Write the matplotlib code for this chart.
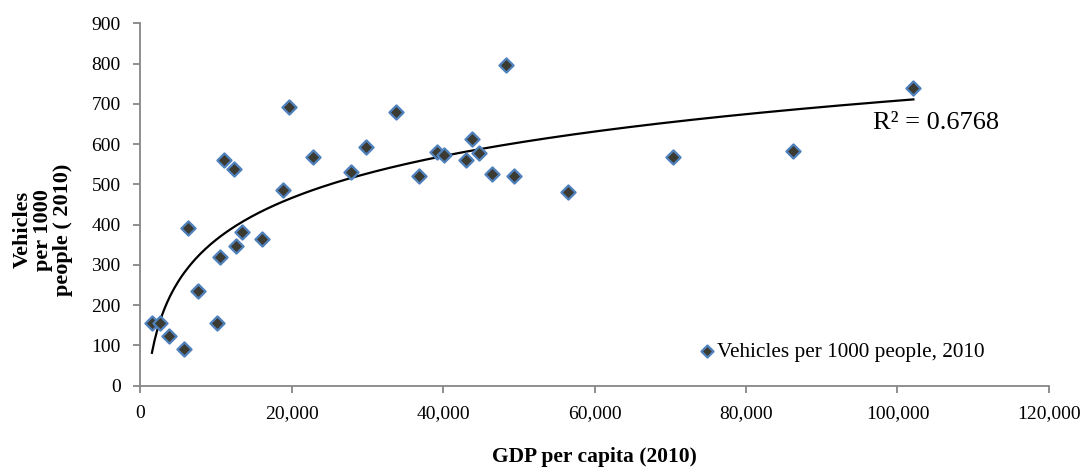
import numpy as np
import matplotlib.pyplot as plt
from matplotlib.ticker import FuncFormatter

plt.rcParams['font.family'] = ['Liberation Serif', 'DejaVu Serif']

# GDP per capita (2010) and vehicles per 1000 people (2010)
gdp = [1545, 2600, 3750, 5810, 6300, 7660, 10080, 10600, 11050, 12330,
       12670, 13380, 16060, 18840, 19630, 22840, 27860, 29840, 33750, 36750,
       39200, 40180, 42990, 43820, 44750, 46450, 48350, 49350, 56450, 70300,
       86200, 102100]
vehicles = [156, 155, 124, 91, 392, 234, 156, 320, 560, 537,
            346, 381, 364, 485, 693, 567, 531, 593, 680, 520,
            580, 573, 560, 613, 578, 527, 797, 520, 480, 567,
            584, 739]
series_label = 'Vehicles per 1000 people, 2010'
r2_text = 'R\u00b2 = 0.6768'

gdp = np.array(gdp, dtype=float)
vehicles = np.array(vehicles, dtype=float)

#%% log trendline
a, b = np.polyfit(np.log(gdp), vehicles, 1)
xs = np.linspace(gdp.min(), gdp.max(), 300)
ys = a * np.log(xs) + b

#%% plot
fig = plt.figure(figsize=(10.87, 4.69), dpi=100)
ax = fig.add_axes([0.129, 0.1776, 0.836, 0.7727])

ax.scatter(gdp, vehicles, marker='D', s=52, c='#3b3b31', edgecolors='#4f81bd',
           linewidths=1.6, zorder=3, label=series_label)
ax.plot(xs, ys, color='black', lw=1.6, zorder=2)

ax.set_xlim(0, 120000)
ax.set_ylim(0, 900)
ax.set_xticks(np.arange(0, 120001, 20000))
ax.set_yticks(np.arange(0, 901, 100))
ax.xaxis.set_major_formatter(FuncFormatter(lambda v, p: f'{int(v):,}'))

for s in ['top', 'right']:
    ax.spines[s].set_visible(False)
for s in ['left', 'bottom']:
    ax.spines[s].set_color('#868686')
    ax.spines[s].set_linewidth(1.3)
ax.tick_params(axis='both', color='#868686', width=1.3, length=5,
               labelsize=14, pad=9)

ax.text(96700, 652, r2_text, fontsize=19, ha='left', va='center')

ax.set_xlabel('GDP per capita (2010)', fontsize=15.5, fontweight='bold',
              labelpad=18)
# y label drawn as figure text so the three lines stay centred
fig.text(0.0396, 0.51, 'Vehicles\nper 1000\npeople ( 2010)', fontsize=16,
         fontweight='bold', linespacing=1.0, rotation=90,
         ha='center', va='center', multialignment='center')

ax.legend(loc='center left', bbox_to_anchor=(0.614, 0.094), frameon=False,
          fontsize=15.3, handlelength=0.8, handletextpad=0.1, markerscale=0.85,
          borderpad=0, borderaxespad=0)

fig.savefig('out.png', dpi=100)
